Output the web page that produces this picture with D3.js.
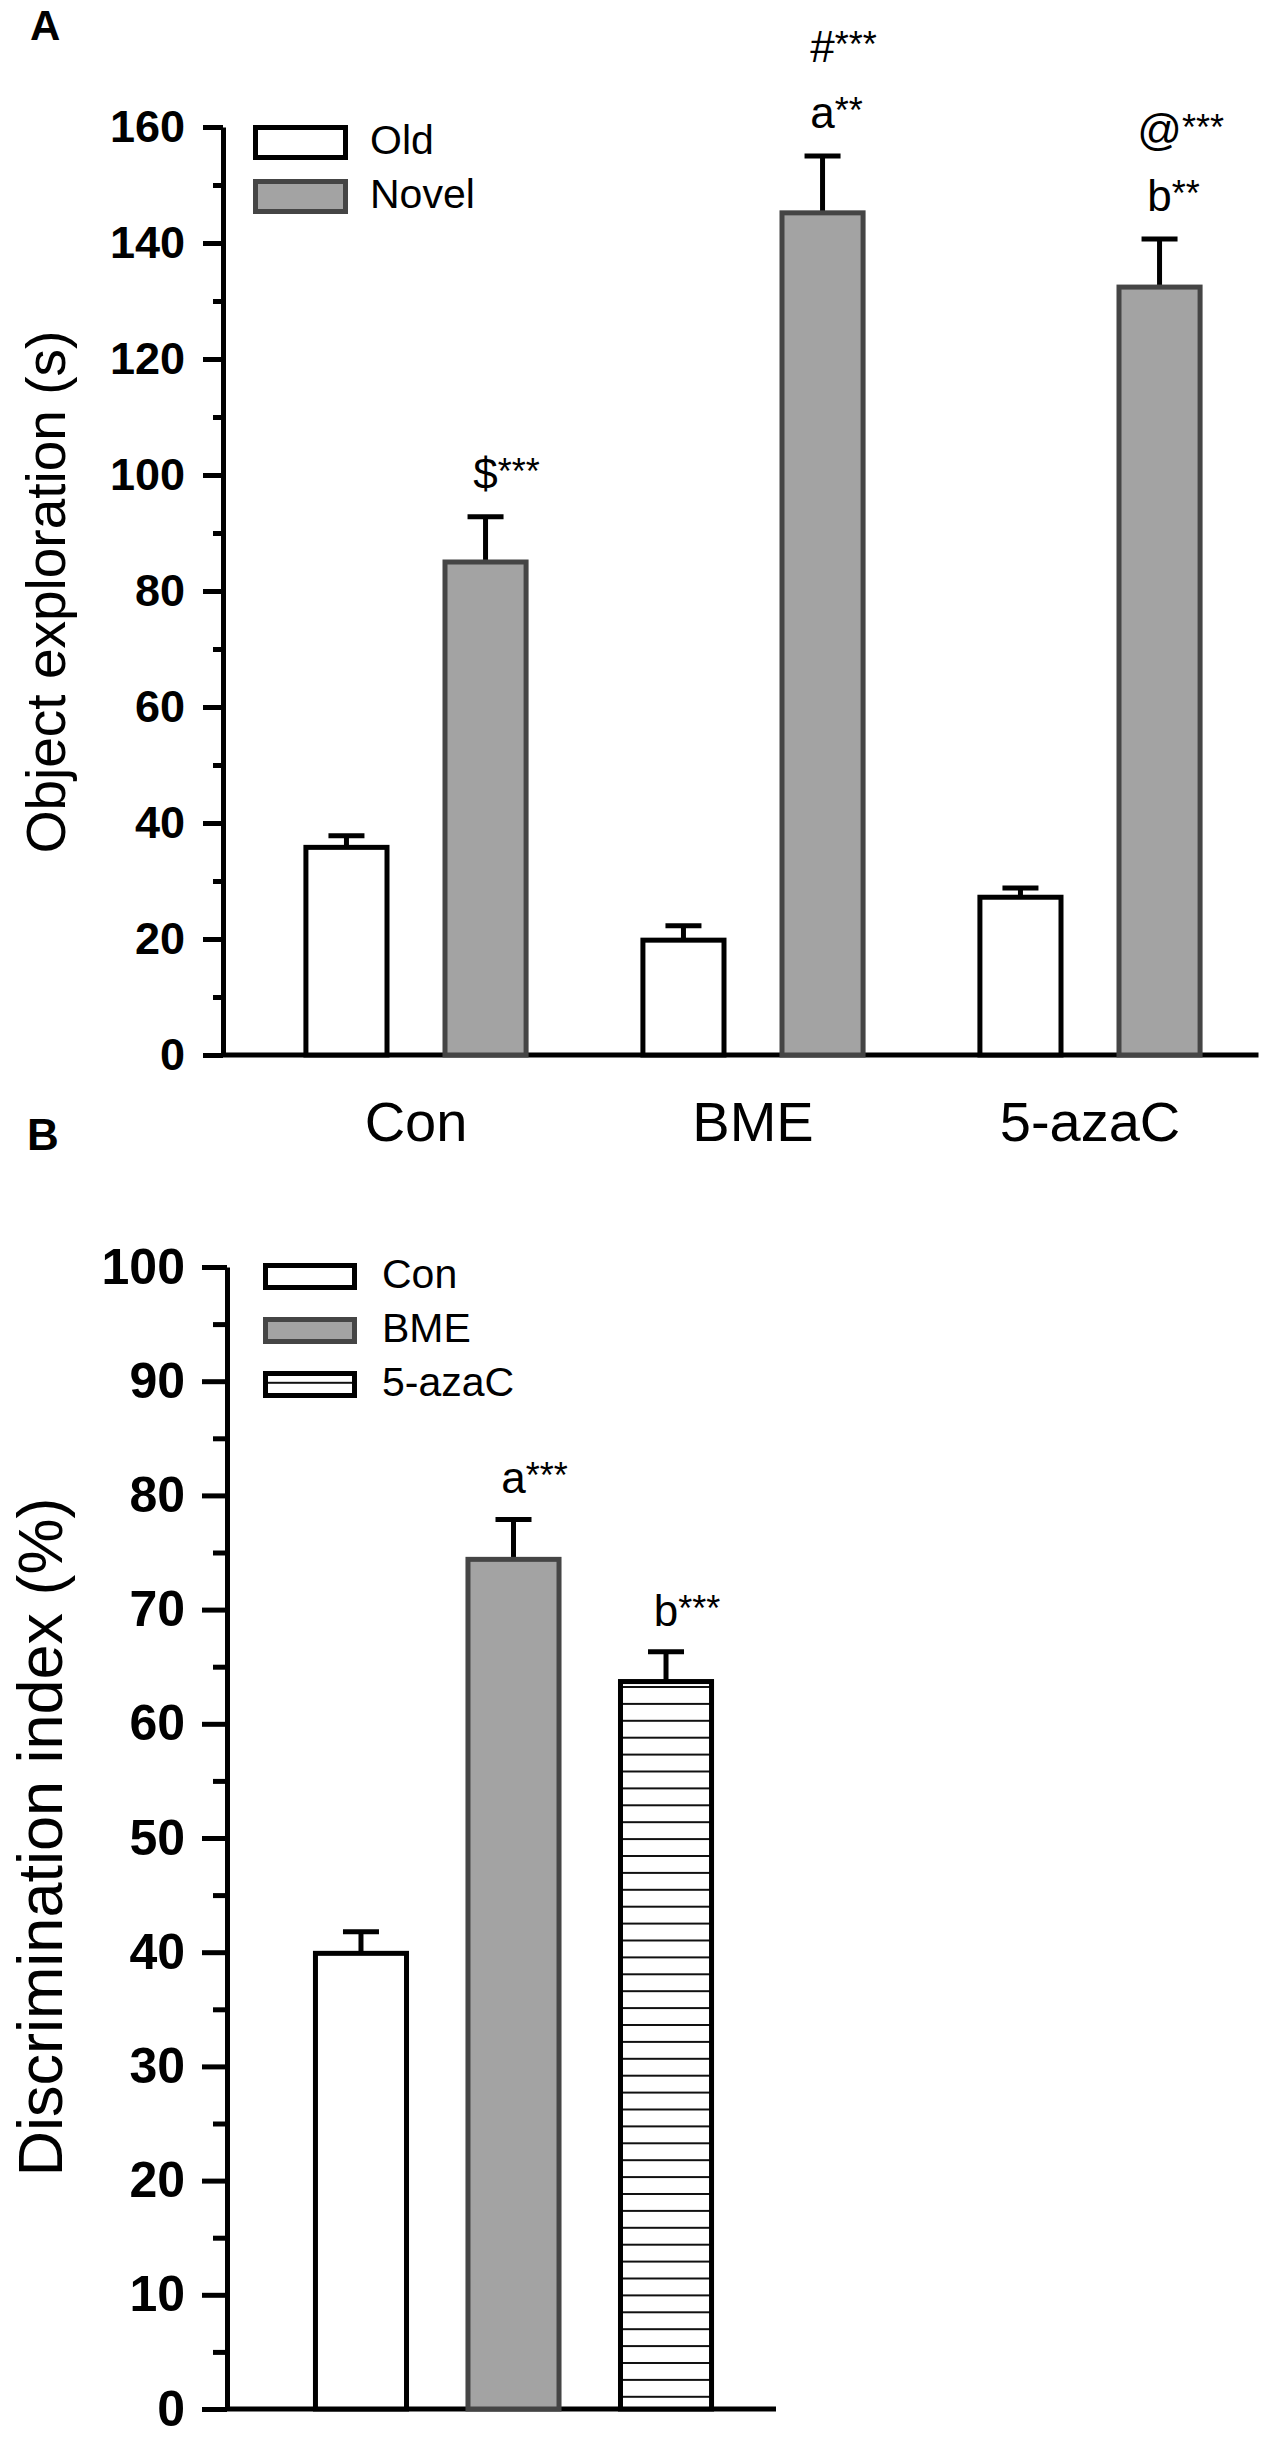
<!DOCTYPE html>
<html lang="en">

<head>
  <meta charset="UTF-8">
  <title>Object exploration / Discrimination index</title>
  <script src="https://d3js.org/d3.v7.min.js"></script>
  <style>
    body {
      margin: 0;
      background: #fff;
    }

    text {
      font-family: "Liberation Sans", Arial, sans-serif;
      fill: #000;
    }

    .tick text {
      font-weight: bold;
    }
  </style>
</head>

<body>
  <div class="chartContainer"></div>

  <script>
    // ---- panel A data ----
    const groupsA = ['Con', 'BME', '5-azaC']
    const seriesA = ['Old', 'Novel']
    const oldMean = [35.8, 19.8, 27.2]
    const oldSem = [2.0, 2.5, 1.6]
    const novelMean = [85.0, 145.2, 132.4]
    const novelSem = [7.8, 9.8, 8.3]
    const novelMarks = [['$***'], ['a**', '#***'], ['b**', '@***']]
    const ticksA = [0, 20, 40, 60, 80, 100, 120, 140, 160]
    const minorA = [10, 30, 50, 70, 90, 110, 130, 150]

    // ---- panel B data ----
    const groupsB = ['Con', 'BME', '5-azaC']
    const diMean = [39.9, 74.4, 63.7]
    const diSem = [1.9, 3.5, 2.6]
    const diMarks = [[], ['a***'], ['b***']]
    const ticksB = [0, 10, 20, 30, 40, 50, 60, 70, 80, 90, 100]
    const minorB = [5, 15, 25, 35, 45, 55, 65, 75, 85, 95]

    const GRAY = '#a3a3a3', GRAY_LINE = '#454545'

    const svg = d3.select('.chartContainer')
      .append('svg')
      .attr('width', 1267)
      .attr('height', 2437)

    // hatch for 5-azaC
    svg.append('defs').append('pattern')
      .attr('id', 'hatch')
      .attr('patternUnits', 'userSpaceOnUse')
      .attr('x', 0).attr('y', 1686)
      .attr('width', 20).attr('height', 16.9)
      .call(p => {
        p.append('rect').attr('width', 20).attr('height', 16.9).attr('fill', '#fff')
        p.append('line').attr('x1', 0).attr('x2', 20).attr('y1', 1).attr('y2', 1)
          .attr('stroke', '#111').attr('stroke-width', 2)
      })

    // first character centred over the bar, stars (smaller) hang to the right
    function mark(g, cx, y, str) {
      const tmp = g.append('text').style('font-size', '44px').text(str[0])
      const w = tmp.node().getComputedTextLength()
      tmp.remove()
      const t = g.append('text')
        .attr('x', cx - w / 2)
        .attr('y', y)
        .style('font-size', '44px')
      t.append('tspan').text(str[0])
      t.append('tspan').attr('dy', -5).style('font-size', '36px').text(str.slice(1))
    }

    function errBar(g, cx, yTop, yErr) {
      g.append('line').attr('x1', cx).attr('x2', cx).attr('y1', yTop).attr('y2', yErr)
        .attr('stroke', '#000').attr('stroke-width', 5)
      g.append('line').attr('x1', cx - 18).attr('x2', cx + 18).attr('y1', yErr).attr('y2', yErr)
        .attr('stroke', '#000').attr('stroke-width', 5)
    }

    function styleAxis(g) {
      g.selectAll('path, line').attr('stroke', '#000').attr('stroke-width', 5)
    }

    // =================== A ===================
    const gA = svg.append('g')
    const yA = d3.scaleLinear().domain([0, 160]).range([1055, 127])
    const x0A = d3.scaleBand().domain(groupsA).range([247.5, 1258.5])
    const x1A = d3.scaleBand().domain(seriesA).range([0, x0A.bandwidth()])
      .paddingInner(0.417).paddingOuter(0.42)
    const axisXA = 223

    gA.append('text').attr('x', 30).attr('y', 40)
      .style('font-size', '42px').style('font-weight', 'bold').text('A')

    // minor ticks
    gA.append('g').attr('transform', `translate(${axisXA},0)`)
      .call(d3.axisLeft(yA).tickValues(minorA).tickSize(10).tickFormat('').tickSizeOuter(0))
      .call(styleAxis)
      .call(g => g.select('.domain').remove())
    gA.append('g').attr('transform', `translate(${axisXA},0)`)
      .call(d3.axisLeft(yA).tickValues(ticksA).tickSize(20).tickPadding(18).tickSizeOuter(0))
      .call(styleAxis)
      .call(g => g.selectAll('.tick text').style('font-size', '45px'))

    gA.append('line')
      .attr('x1', axisXA).attr('x2', x0A.range()[1])
      .attr('y1', yA(0)).attr('y2', yA(0))
      .attr('stroke', '#000').attr('stroke-width', 5)

    gA.append('text')
      .attr('transform', `translate(65,592) rotate(-90)`)
      .attr('text-anchor', 'middle')
      .style('font-size', '55px')
      .text('Object exploration (s)')

    groupsA.forEach((grp, i) => {
      const gc = x0A(grp) + x0A.bandwidth() / 2
      gA.append('text').attr('x', gc).attr('y', 1141)
        .attr('text-anchor', 'middle').style('font-size', '56px').text(grp)

      const bars = [
        { s: 'Old', m: oldMean[i], e: oldSem[i], fill: '#fff', stroke: '#000' },
        { s: 'Novel', m: novelMean[i], e: novelSem[i], fill: GRAY, stroke: GRAY_LINE }
      ]
      bars.forEach(b => {
        const bx = x0A(grp) + x1A(b.s)
        const cx = bx + x1A.bandwidth() / 2
        errBar(gA, cx, yA(b.m), yA(b.m + b.e))
        gA.append('rect')
          .attr('x', bx).attr('y', yA(b.m))
          .attr('width', x1A.bandwidth()).attr('height', yA(0) - yA(b.m))
          .attr('fill', b.fill).attr('stroke', b.stroke).attr('stroke-width', 5)
      })
      const cxN = x0A(grp) + x1A('Novel') + x1A.bandwidth() / 2
      novelMarks[i].forEach((t, k) => {
        mark(gA, cxN, yA(novelMean[i] + novelSem[i]) - 28 - k * 66, t)
      })
    })

    // legend A
    const legA = [{ name: 'Old', fill: '#fff', stroke: '#000' }, { name: 'Novel', fill: GRAY, stroke: GRAY_LINE }]
    legA.forEach((d, i) => {
      const y = 127.5 + i * 54
      gA.append('rect').attr('x', 255.5).attr('y', y).attr('width', 90).attr('height', 30)
        .attr('fill', d.fill).attr('stroke', d.stroke).attr('stroke-width', 5)
      gA.append('text').attr('x', 370).attr('y', y + 26).style('font-size', '41px').text(d.name)
    })

    // =================== B ===================
    const gB = svg.append('g')
    const yB = d3.scaleLinear().domain([0, 100]).range([2409, 1267])
    const xB = d3.scaleBand().domain(groupsB).range([227, 800])
      .paddingInner(0.403).paddingOuter(0.58)
    const axisXB = 227
    const fillsB = [
      { fill: '#fff', stroke: '#000' },
      { fill: GRAY, stroke: GRAY_LINE },
      { fill: 'url(#hatch)', stroke: '#000' }
    ]

    gB.append('text').attr('x', 27).attr('y', 1150)
      .style('font-size', '44px').style('font-weight', 'bold').text('B')

    gB.append('g').attr('transform', `translate(${axisXB},0)`)
      .call(d3.axisLeft(yB).tickValues(minorB).tickSize(14).tickFormat('').tickSizeOuter(0))
      .call(styleAxis)
      .call(g => g.select('.domain').remove())
    gB.append('g').attr('transform', `translate(${axisXB},0)`)
      .call(d3.axisLeft(yB).tickValues(ticksB).tickSize(25).tickPadding(17).tickSizeOuter(0))
      .call(styleAxis)
      .call(g => g.selectAll('.tick text').style('font-size', '50px'))

    gB.append('line')
      .attr('x1', axisXB).attr('x2', 776)
      .attr('y1', yB(0)).attr('y2', yB(0))
      .attr('stroke', '#000').attr('stroke-width', 5)

    gB.append('text')
      .attr('transform', `translate(62,1837) rotate(-90)`)
      .attr('text-anchor', 'middle')
      .style('font-size', '63px')
      .text('Discrimination index (%)')

    groupsB.forEach((grp, i) => {
      const cx = xB(grp) + xB.bandwidth() / 2
      errBar(gB, cx, yB(diMean[i]), yB(diMean[i] + diSem[i]))
      gB.append('rect')
        .attr('x', xB(grp)).attr('y', yB(diMean[i]))
        .attr('width', xB.bandwidth()).attr('height', yB(0) - yB(diMean[i]))
        .attr('fill', fillsB[i].fill).attr('stroke', fillsB[i].stroke).attr('stroke-width', 5)
      diMarks[i].forEach((t, k) => {
        mark(gB, cx, yB(diMean[i] + diSem[i]) - 26 - k * 66, t)
      })
    })

    // legend B
    groupsB.forEach((grp, i) => {
      const y = 1265.5 + i * 54
      gB.append('rect').attr('x', 265.5).attr('y', y).attr('width', 89).attr('height', 22)
        .attr('fill', fillsB[i].fill).attr('stroke', fillsB[i].stroke).attr('stroke-width', 5)
      gB.append('text').attr('x', 382).attr('y', y + 22).style('font-size', '41px').text(grp)
    })
  </script>
</body>

</html>
